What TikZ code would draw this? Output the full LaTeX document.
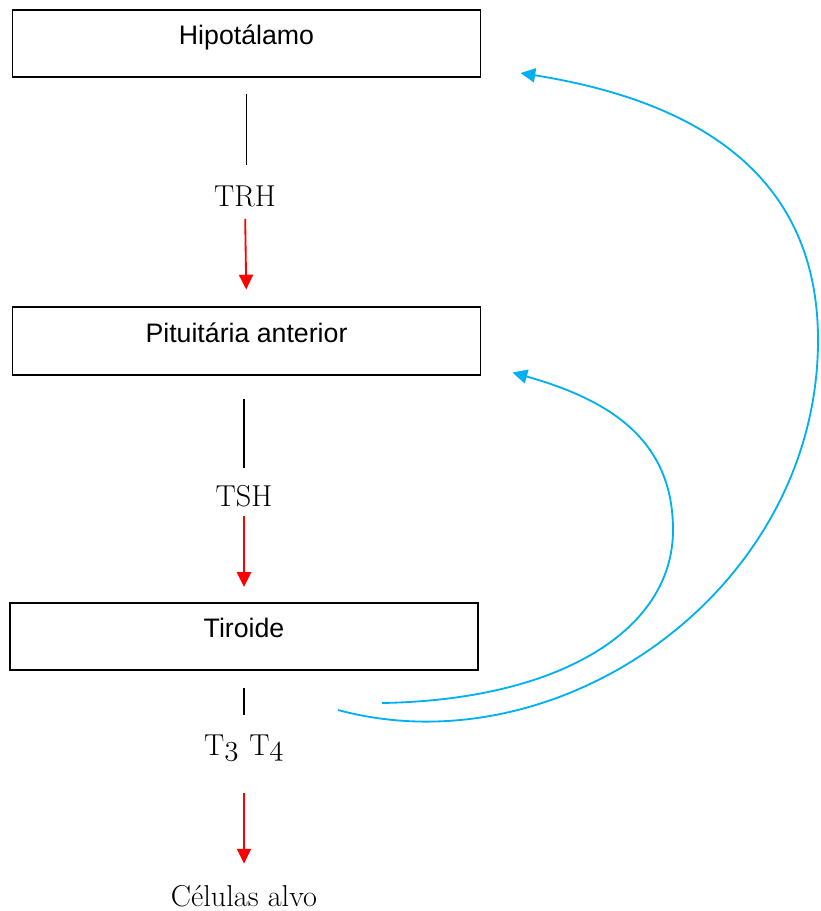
\documentclass[tikz,border=0pt]{standalone}
\usepackage{fontspec}
\newfontfamily\organfont{Liberation Sans}
\usepackage{tikz}
\usetikzlibrary{arrows.meta}
\definecolor{fbblue}{RGB}{0,176,240}
\newcommand{\osn}[1]{{\usefont{OML}{cmm}{m}{it}#1}}

\begin{document}
\begin{tikzpicture}[x=0.025cm,y=-0.025cm,
    organ/.style={draw,line width=1.3pt,minimum width=11.7cm,minimum height=1.68cm,inner sep=0pt,
      text height=14pt,text depth=12pt,font=\organfont\fontsize{19}{23}\selectfont},
    hormone/.style={inner sep=0pt,anchor=base,font=\fontsize{21.5}{26}\selectfont},
    link/.style={line width=1.3pt},
    down/.style={red,line width=1.3pt,-{Triangle[length=10.5pt,width=10pt]}},
    feedback/.style={fbblue,line width=1.3pt,-{Triangle[length=10.5pt,width=10pt]}}]
  \useasboundingbox (0,0) rectangle (820,911);

  \node[organ] (hip) at (246.5,43.5) {Hipotálamo};
  \node[organ] (pit) at (246.5,341) {Pituitária anterior};
  \node[organ,minimum width=11.7cm] (tir) at (244,636.5) {Tiroide};

  \node[hormone] (trh) at (245,207) {TRH};
  \node[hormone] (tsh) at (244,506) {TSH};
  \node[hormone] (t34) at (244,755) {T\osn{3}\hspace{0.35em}T\osn{4}};
  \node[hormone] (cel) at (244,906) {Células alvo};

  % hormone chain
  \draw[link,shorten <=0.4cm,shorten >=0.525cm] (hip.south) -- (hip.south |- trh.north);
  \draw[down,shorten <=0.275cm,shorten >=0.425cm] (trh.south) -- (pit.north);
  \draw[link,shorten <=0.575cm,shorten >=0.425cm] (pit.south -| tsh) -- (tsh.north);
  \draw[down,shorten <=0.225cm,shorten >=0.375cm] (tsh.south) -- (tir.north);
  \draw[link,shorten <=0.425cm,shorten >=0.475cm] (tir.south) -- (tir.south |- t34.north);
  \draw[down,shorten <=0.8cm,shorten >=0.525cm] (t34.south) -- (cel.north);

  % feedback
  \coordinate (fbout) at (338,710);
  \coordinate (fbin) at (382,703);
  \draw[feedback] (fbout) .. controls (560,770) and (818,590) .. (818,340)
    .. controls (818,170) and (690,100) .. ([xshift=0.975cm,yshift=0.125cm]hip.south east);
  \draw[feedback] (fbin) .. controls (560,700) and (673,630) .. (673,530)
    .. controls (673,440) and (610,400) .. ([xshift=0.775cm,yshift=0.075cm]pit.south east);
\end{tikzpicture}
\end{document}
